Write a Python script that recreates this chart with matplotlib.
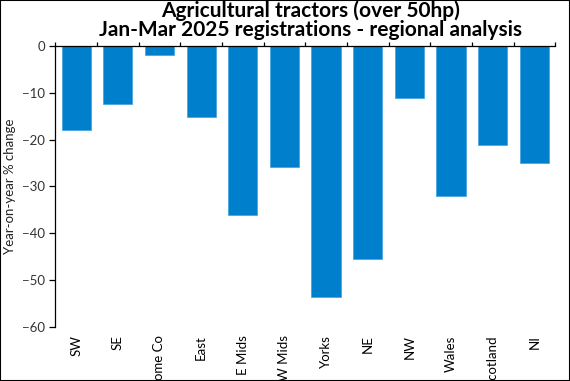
import numpy as np
import matplotlib.pyplot as plt

plt.rcParams["font.family"] = ["Lato", "DejaVu Sans"]

regions = ["SW", "SE", "Home Co", "East", "E Mids", "W Mids", "Yorks", "NE",
           "NW", "Wales", "Scotland", "NI"]
change = [-17.9, -12.4, -1.9, -15.2, -36.1, -25.8, -53.7, -45.5, -11.1, -32.0,
          -21.1, -24.9]
title_lines = ["Agricultural tractors (over 50hp)",
               "Jan-Mar 2025 registrations - regional analysis"]

fig = plt.figure(figsize=(5.7, 3.81), dpi=100)
ax = fig.add_axes([0.097, 0.142, 0.877, 0.737])

x = np.arange(len(regions))
ax.bar(x, change, width=0.7, color="#0080CC", edgecolor="#4AA8E0", linewidth=0.6)

ax.set_xlim(-0.5, len(regions) - 0.5)
ax.set_ylim(-60, 0)
ax.set_yticks(np.arange(-60, 1, 10))
ax.set_ylabel("Year-on-year % change", fontsize=9.5, color="#222222")

ax.spines["right"].set_visible(False)
ax.spines["bottom"].set_visible(False)
ax.spines["top"].set_linewidth(0.9)
ax.spines["left"].set_linewidth(0.9)

ax.set_xticks(x)
ax.set_xticklabels(regions, rotation=90, fontsize=9.5, va="top")
ax.tick_params(axis="x", which="major", length=0, pad=6)
ax.set_xticks(np.arange(-0.5, len(regions), 1), minor=True)
ax.tick_params(axis="x", which="minor", top=True, bottom=False, direction="out",
               length=3, width=0.9)
ax.tick_params(axis="y", length=4, width=0.9, labelsize=9.5, labelcolor="#333333")

fig.text(0.544, 1 - 10.5 / 381, title_lines[0], ha="center", va="center",
         fontsize=15, fontweight="bold")
fig.text(0.544, 1 - 30.5 / 381, title_lines[1], ha="center", va="center",
         fontsize=15, fontweight="bold")

border = plt.Rectangle((0, 0), 1, 1, transform=fig.transFigure, fill=False,
                       edgecolor="black", linewidth=1.5)
fig.patches.append(border)

fig.savefig("out.png", dpi=100)
